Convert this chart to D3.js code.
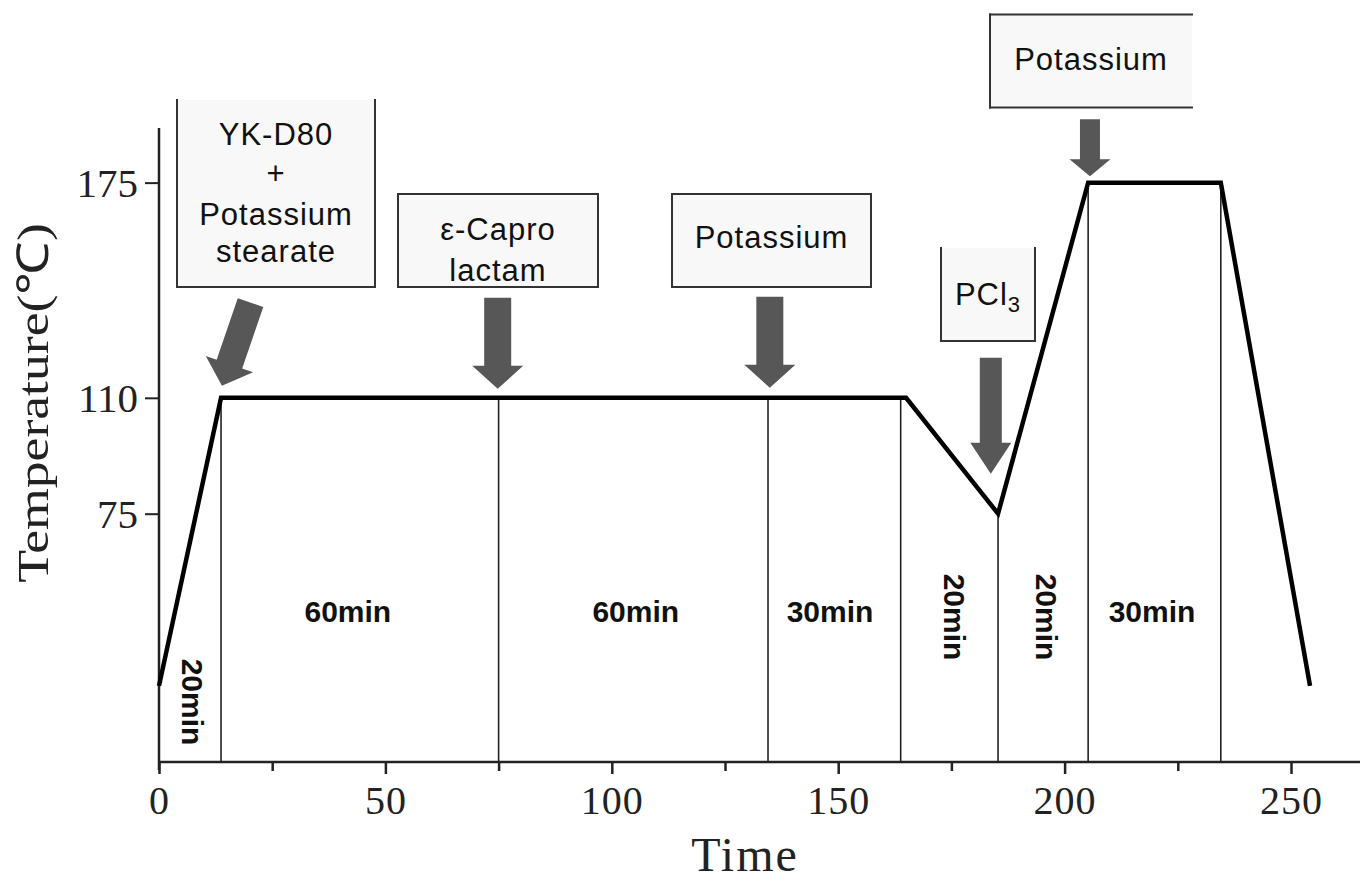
<!DOCTYPE html>
<html><head><meta charset="utf-8">
<script src="https://cdn.jsdelivr.net/npm/d3@7/dist/d3.min.js"></script>
<style>body{margin:0;background:#fff} svg{display:block}</style>
</head><body>
<svg id="chart" width="1360" height="881"></svg>
<script>
// ---------- data ----------
const profileTimes = [0, 13.7, 165, 185.3, 205.2, 234.5, 254.2];
const profileTemps = [23, 110, 110, 75, 175, 175, 23];
const dividerTimes = [13.7, 75, 134.5, 163.8, 185.3, 205.2, 234.5];
const dividerTemps = [110, 110, 110, 110, 75, 175, 175];
const segmentLabels = ["20min", "60min", "60min", "30min", "20min", "20min", "30min"];
const segmentRotated = [true, false, false, false, true, true, false];
const xTicks = [0, 25, 50, 75, 100, 125, 150, 175, 200, 225, 250];
const xTickLabels = ["0", "50", "100", "150", "200", "250"];
const yTicks = [75, 110, 175];
const yTickLabels = ["75", "110", "175"];
const additiveLabels = [
  ["YK-D80", "+", "Potassium", "stearate"],
  ["\u03B5-Capro", "lactam"],
  ["Potassium"],
  ["PCl|3"],
  ["Potassium"]
];
const additiveTimes = [13.9, 74.8, 134.9, 183.7, 205.6];
const additiveTemps = [110, 110, 110, 75, 175];
const xTitle = "Time";
const yTitle = "Temperature(\u2103)";

// ---------- layout ----------
const W = 1360, H = 881;
const svg = d3.select("#chart");
const x = d3.scaleLinear().domain([0, 250]).range([159, 1291]);
const y = d3.scaleLinear().domain([0, 191.5]).range([762, 128]);
const serif = "'Liberation Serif','Times New Roman',serif";
const sans = "'Liberation Sans',Arial,sans-serif";

const segLayout = [
  {t: 7.4, py: 702}, {t: 41.7, py: 622}, {t: 105.3, py: 622}, {t: 148.2, py: 622},
  {t: 175.6, py: 617}, {t: 195.9, py: 617}, {t: 219.3, py: 622}
];
const boxLayout = [
  {x0: 177, x1: 375, y0: 100, y1: 287, sides: "lbr", base: [145, 184, 225, 262]},
  {x0: 398, x1: 598, y0: 194, y1: 287, sides: "tlbr", base: [240, 281]},
  {x0: 672, x1: 871, y0: 194, y1: 287, sides: "tlbr", base: [248]},
  {x0: 941, x1: 1035, y0: 248, y1: 341, sides: "lbr", base: [305]},
  {x0: 990, x1: 1192, y0: 14.5, y1: 107.5, sides: "tlb", base: [70]}
];
const arrowLayout = [
  {gap: 12, dx: -28.5, dy: 83, len: 88, shaft: 27, head: 50, headLen: 23},
  {gap: 9, dx: 0, dy: 1, len: 91, shaft: 27, head: 51, headLen: 23},
  {gap: 10, dx: 0, dy: 1, len: 91, shaft: 27, head: 51, headLen: 23},
  {gap: 40, dx: 0, dy: 1, len: 116, shaft: 22, head: 41, headLen: 31},
  {gap: 6.5, dx: 0, dy: 1, len: 57, shaft: 20, head: 41, headLen: 17}
];

// ---------- axes ----------
const xAxis = d3.axisBottom(x).tickValues(xTicks).tickSize(12).tickPadding(12)
  .tickFormat(d => (d % 50 === 0 ? xTickLabels[d / 50] : ""));
const gx = svg.append("g").attr("transform", `translate(0,${y(0)})`).call(xAxis);
gx.select(".domain").remove();
gx.selectAll(".tick line").attr("stroke", "#222").attr("stroke-width", 2.5)
  .attr("y2", d => (d % 50 === 0 ? 12 : 9));
gx.selectAll(".tick text").attr("font-family", serif).attr("font-size", 40)
  .attr("letter-spacing", 1).attr("fill", "#222").attr("dy", "0.71em");
svg.append("line").attr("x1", x(0)).attr("x2", W).attr("y1", y(0)).attr("y2", y(0))
  .attr("stroke", "#222").attr("stroke-width", 2.5);

const yAxis = d3.axisLeft(y).tickValues(yTicks).tickSize(14).tickPadding(7)
  .tickFormat(d => yTickLabels[yTicks.indexOf(d)]);
const gy = svg.append("g").attr("transform", `translate(${x(0)},0)`).call(yAxis);
gy.select(".domain").remove();
gy.selectAll(".tick line").attr("stroke", "#222").attr("stroke-width", 2);
gy.selectAll(".tick text").attr("font-family", serif).attr("font-size", 41)
  .attr("fill", "#222").attr("dy", "0.34em");
svg.append("line").attr("x1", x(0)).attr("x2", x(0)).attr("y1", y.range()[1]).attr("y2", y(0) + 8)
  .attr("stroke", "#222").attr("stroke-width", 2.5);

svg.append("text").attr("x", 745).attr("y", 871).attr("text-anchor", "middle")
  .attr("font-family", serif).attr("font-size", 48).attr("letter-spacing", 2)
  .attr("fill", "#222").text(xTitle);
svg.append("text").attr("transform", "translate(48,403) rotate(-90) scale(1.22,1)")
  .attr("text-anchor", "middle")
  .attr("font-family", serif).attr("font-size", 44).attr("fill", "#222").text(yTitle);

// ---------- dividers ----------
svg.append("g").selectAll("line").data(dividerTimes).join("line")
  .attr("x1", d => x(d)).attr("x2", d => x(d))
  .attr("y1", (d, i) => y(dividerTemps[i])).attr("y2", y(0))
  .attr("stroke", "#222").attr("stroke-width", 1.6);

// ---------- profile ----------
const pts = profileTimes.map((t, i) => [t, profileTemps[i]]);
svg.append("path").datum(pts)
  .attr("d", d3.line().x(d => x(d[0])).y(d => y(d[1])))
  .attr("fill", "none").attr("stroke", "#000").attr("stroke-width", 4.5)
  .attr("stroke-linejoin", "miter");

// ---------- segment labels ----------
svg.append("g").selectAll("text").data(segmentLabels).join("text")
  .attr("transform", (d, i) => {
    const px = x(segLayout[i].t), py = segLayout[i].py;
    return segmentRotated[i] ? `translate(${px},${py}) rotate(90)` : `translate(${px},${py})`;
  })
  .attr("text-anchor", "middle")
  .attr("dy", (d, i) => (segmentRotated[i] ? "0.35em" : "0"))
  .attr("font-family", sans).attr("font-size", 30).attr("font-weight", "bold")
  .attr("fill", "#111").text(d => d);

// ---------- arrows ----------
const arrowG = svg.append("g");
additiveTimes.forEach((t, i) => {
  const a = arrowLayout[i];
  const tx = x(t), ty = y(additiveTemps[i]) - a.gap;
  const n = Math.hypot(a.dx, a.dy), ux = a.dx / n, uy = a.dy / n;
  const px = -uy, py = ux;
  const bx = tx - ux * a.headLen, by = ty - uy * a.headLen;
  const sx = tx - ux * a.len, sy = ty - uy * a.len;
  const p = [
    [sx + px * a.shaft / 2, sy + py * a.shaft / 2],
    [bx + px * a.shaft / 2, by + py * a.shaft / 2],
    [bx + px * a.head / 2, by + py * a.head / 2],
    [tx, ty],
    [bx - px * a.head / 2, by - py * a.head / 2],
    [bx - px * a.shaft / 2, by - py * a.shaft / 2],
    [sx - px * a.shaft / 2, sy - py * a.shaft / 2]
  ];
  arrowG.append("path").attr("d", "M" + p.map(q => q.join(",")).join("L") + "Z")
    .attr("fill", "#575757");
});

// ---------- boxes ----------
const boxG = svg.append("g");
additiveLabels.forEach((lines, i) => {
  const b = boxLayout[i];
  boxG.append("rect").attr("x", b.x0).attr("y", b.y0).attr("width", b.x1 - b.x0)
    .attr("height", b.y1 - b.y0).attr("fill", "#f8f8f8");
  const seg = [];
  if (b.sides.includes("t")) seg.push([[b.x0, b.y0], [b.x1, b.y0]]);
  if (b.sides.includes("l")) seg.push([[b.x0, b.y0], [b.x0, b.y1]]);
  if (b.sides.includes("b")) seg.push([[b.x0, b.y1], [b.x1, b.y1]]);
  if (b.sides.includes("r")) seg.push([[b.x1, b.y0], [b.x1, b.y1]]);
  seg.forEach(s => boxG.append("line").attr("x1", s[0][0]).attr("y1", s[0][1])
    .attr("x2", s[1][0]).attr("y2", s[1][1]).attr("stroke", "#333").attr("stroke-width", 2)
    .attr("stroke-linecap", "square"));
  const cx = (b.x0 + b.x1) / 2;
  lines.forEach((ln, j) => {
    const tx = boxG.append("text").attr("x", cx).attr("y", b.base[j]).attr("text-anchor", "middle")
      .attr("font-family", sans).attr("font-size", 31).attr("letter-spacing", 1).attr("fill", "#111");
    if (ln.includes("|")) {
      const [main, sub] = ln.split("|");
      tx.append("tspan").text(main);
      tx.append("tspan").attr("font-size", 22).attr("dy", 7).text(sub);
    } else tx.text(ln);
  });
});
</script>
</body></html>
